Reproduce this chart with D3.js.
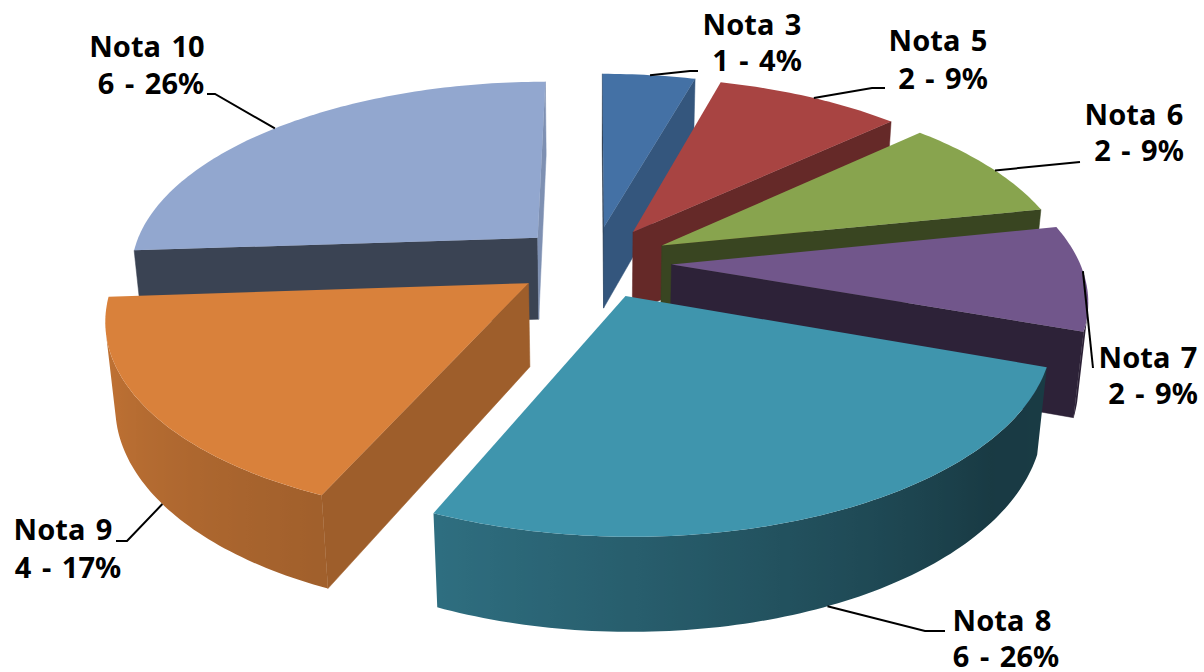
<!DOCTYPE html>
<html lang="en">
<head>
<meta charset="UTF-8">
<title>Notas</title>
<script src="https://d3js.org/d3.v7.min.js"></script>
<style>
  html, body { margin: 0; background: #fff; }
  svg { display: block; }
  text { font-family: "Noto Sans", sans-serif; font-weight: 700; font-size: 29px; word-spacing: 3px; fill: #000; }
</style>
</head>
<body>
<svg width="1204" height="672"></svg>
<script>
// data
const names = ["Nota 3", "Nota 5", "Nota 6", "Nota 7", "Nota 8", "Nota 9", "Nota 10"];
const counts = [1, 2, 2, 2, 6, 4, 6];
const percents = ["4%", "9%", "9%", "9%", "26%", "17%", "26%"];
const colors = ["#4471a5", "#a84442", "#88a44e", "#71568b", "#3f95ad", "#d9813b", "#92a7cf"];

// layout of the labels: text centres of both lines, then leader line end points
const labelX = [752, 938, 1134, 1148, 1002, 63, 147];
const labelX2 = [757, 943, 1139, 1153, 1006, 68, 151];
const labelY = [[25, 61], [41, 79], [115, 151], [358, 394], [621, 657], [530, 568], [47, 84]];
const leaderAngle = [8, 32, 64, 92, 156, 233, 312];
const leaderEnd = [[[690, 71], [698, 71]], [[872, 88], [885, 88]], [[1080, 162]],
  [[1093, 368]], [[925, 631], [945, 631]], [[127, 541], [116, 541]], [[215, 94], [207, 94]]];

// camera
const cx = 593.5, cy = 262;
const R = 408, H = 95, explode = 78;
const elev = Math.asin(0.463), D = 2215;
const rad = d => d * Math.PI / 180;
const cosE = Math.cos(elev), sinE = Math.sin(elev);
const cam = [0, -D * cosE, D * sinE];

function project(X, Y, Z) {
  const depth = D + Y * cosE - Z * sinE;
  const k = D / depth;
  return [cx + X * k, cy - (Y * sinE + Z * cosE) * k];
}

const svg = d3.select("svg");
const defs = svg.append("defs");
const line = d3.line();
const pie = d3.pie().sort(null).value(d => d);
const arcs = pie(counts).map((d, i) => ({ ...d, i }));

// how dark the rim and the cut faces get, by the direction they look at
const rimShade = d3.scaleLinear().domain([0, 90, 130, 203, 266, 360]).range([0.9, 0.4, 0.39, 0.74, 0.92, 1]);
const wallShade = d3.scaleLinear().domain([0, 90, 105, 113, 137, 168, 176, 360]).range([1, 0.86, 0.76, 0.73, 0.6, 0.42, 0.4, 0.4]);
const shade = (c, k) => { const r = d3.rgb(c); return d3.rgb(r.r * k, r.g * k, r.b * k).formatHex(); };
const deg = a => ((a * 180 / Math.PI) % 360 + 360) % 360;

// back slices are painted first
const order = [6, 0, 1, 2, 3, 5, 4];

order.forEach(i => {
  const a = arcs[i];
  const mid = (a.startAngle + a.endAngle) / 2;
  const ox = explode * Math.sin(mid), oy = explode * Math.cos(mid);
  const g = svg.append("g").attr("class", "slice");
  const rimPt = (t, z) => project(ox + R * Math.sin(t), oy + R * Math.cos(t), z);

  const visible = (nx, ny, px, py) => nx * (cam[0] - px) + ny * (cam[1] - py) > 0;
  const face = (pts, c) => g.append("path").attr("d", line(pts) + "Z").attr("fill", c).attr("stroke", c).attr("stroke-width", 0.5);

  // cut faces
  [[a.startAngle, a.startAngle - Math.PI / 2], [a.endAngle, a.endAngle + Math.PI / 2]].forEach(([t, n]) => {
    if (!visible(Math.sin(n), Math.cos(n), ox, oy)) return;
    face([project(ox, oy, 0), rimPt(t, 0), rimPt(t, -H), project(ox, oy, -H)], shade(colors[i], wallShade(deg(n))));
  });

  // rim, one path with a gradient along screen x
  const steps = d3.range(a.startAngle, a.endAngle, rad(1)).concat([a.endAngle]);
  const seen = steps.filter(t => visible(Math.sin(t), Math.cos(t), ox + R * Math.sin(t), oy + R * Math.cos(t)));
  if (seen.length > 1) {
    const xs = seen.map(t => rimPt(t, 0)[0]);
    const x0 = d3.min(xs), x1 = d3.max(xs);
    const offset = d3.scaleLinear().domain([x0, x1]).range([0, 1]);
    defs.append("linearGradient").attr("id", "rim" + i)
      .attr("gradientUnits", "userSpaceOnUse")
      .attr("x1", x0).attr("x2", x1).attr("y1", 0).attr("y2", 0)
      .selectAll("stop")
      .data(seen.map((t, j) => ({ o: offset(xs[j]), c: shade(colors[i], rimShade(deg(t))) })).sort((p, q) => p.o - q.o))
      .join("stop")
      .attr("offset", d => d.o)
      .attr("stop-color", d => d.c);
    const pts = seen.map(t => rimPt(t, 0)).concat(seen.slice().reverse().map(t => rimPt(t, -H)));
    g.append("path").attr("d", line(pts) + "Z").attr("fill", `url(#rim${i})`);
  }

  // top
  const top = [project(ox, oy, 0)].concat(steps.map(t => rimPt(t, 0)));
  g.append("path").attr("d", line(top) + "Z").attr("fill", colors[i]);
});

// leader lines and labels
arcs.forEach(a => {
  const i = a.i;
  const mid = (a.startAngle + a.endAngle) / 2;
  const ox = explode * Math.sin(mid), oy = explode * Math.cos(mid);
  const t = rad(leaderAngle[i]);
  const z = i === 4 || i === 5 ? -H : 0;
  const start = project(ox + R * Math.sin(t), oy + R * Math.cos(t), z);
  svg.append("path")
    .attr("d", line([start].concat(leaderEnd[i])))
    .attr("fill", "none").attr("stroke", "#000").attr("stroke-width", 2);

  const t2 = svg.append("text").attr("text-anchor", "middle");
  t2.append("tspan").attr("x", labelX[i]).attr("y", labelY[i][0]).attr("dy", "0.36em").text(names[i]);
  t2.append("tspan").attr("x", labelX2[i]).attr("y", labelY[i][1]).attr("dy", "0.36em").text(`${counts[i]} - ${percents[i]}`);
});
</script>
</body>
</html>
